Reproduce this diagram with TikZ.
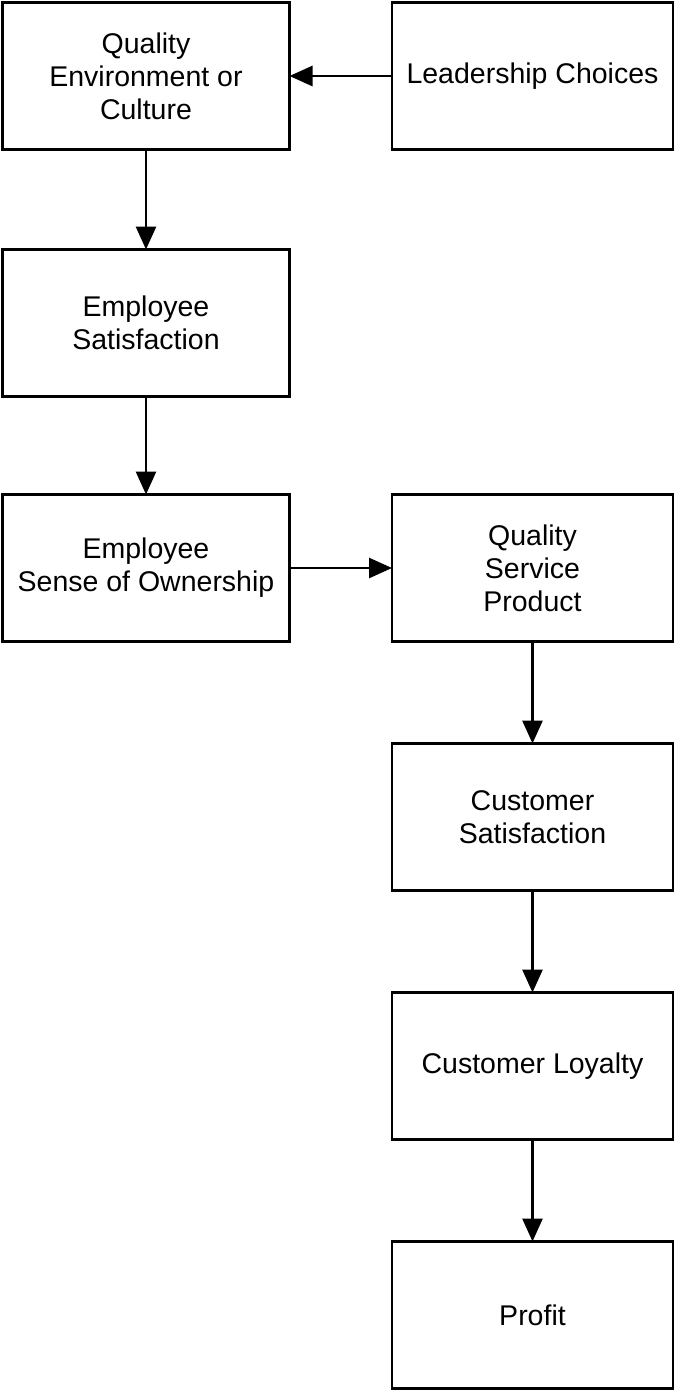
\documentclass[tikz,border=0pt]{standalone}
\usepackage{fontspec}
\setsansfont{Liberation Sans}
\usetikzlibrary{arrows.meta}

\begin{document}
\begin{tikzpicture}[x=1pt,y=-1pt]
    \sffamily

    \tikzset{ST/.style={draw=black,line width=2.8pt,-{Triangle[length=23pt,width=20pt]}}}
    \tikzset{LB/.style={draw=black,line width=2.8pt,shape=rectangle,align=center,inner sep=0pt,outer sep=0pt,
        minimum width=287pt,minimum height=147pt,font=\fontsize{28.5}{33}\selectfont}}
    \tikzset{RB/.style={LB,minimum width=281pt}}

    \useasboundingbox (0,0) rectangle (676,1393);

    \node (qe) [LB] at (146, 76) {Quality\\Environment or\\Culture};
    \node (lc) [RB] at (532.5, 76) {Leadership Choices};
    \node (es) [LB] at (146, 323) {Employee\\Satisfaction};
    \node (eo) [LB] at (146, 568) {Employee\\Sense of Ownership};
    \node (qs) [RB] at (532.5, 568) {Quality\\Service\\Product};
    \node (cs) [RB] at (532.5, 817) {Customer\\Satisfaction};
    \node (cl) [RB] at (532.5, 1066) {Customer Loyalty};
    \node (pr) [RB] at (532.5, 1315) {Profit};

    \draw[ST] (lc) -- (qe);
    \draw[ST] (qe) -- (es);
    \draw[ST] (es) -- (eo);
    \draw[ST] (eo) -- (qs);
    \draw[ST] (qs) -- (cs);
    \draw[ST] (cs) -- (cl);
    \draw[ST] (cl) -- (pr);
\end{tikzpicture}
\end{document}
